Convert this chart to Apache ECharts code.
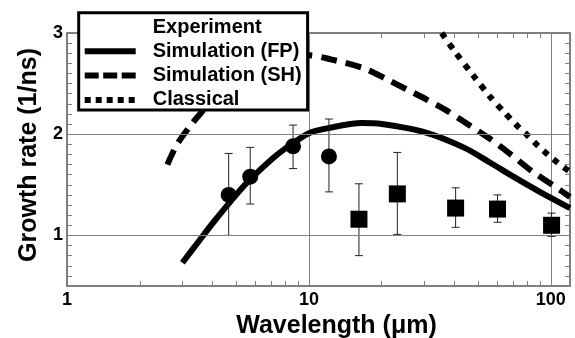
<!DOCTYPE html>
<html><head><meta charset="utf-8">
<script src="https://cdn.jsdelivr.net/npm/echarts@6/dist/echarts.min.js"></script>
<style>html,body{margin:0;padding:0;background:#fff}#c{width:575px;height:338px}</style>
</head><body><div id="c"></div>
<script>
// Experiment (circles)
const circleX = [4.66, 5.72, 8.6, 12.1];
const circleY = [1.40, 1.58, 1.88, 1.78];
const circleLow = [1.00, 1.31, 1.66, 1.43];
const circleHigh = [1.81, 1.87, 2.09, 2.15];
// Experiment (squares)
const squareX = [16.1, 23.2, 40.4, 60.2, 100.7];
const squareY = [1.16, 1.41, 1.27, 1.26, 1.10];
const squareLow = [0.80, 1.01, 1.08, 1.13, 0.99];
const squareHigh = [1.51, 1.82, 1.47, 1.40, 1.22];
// Simulation (FP)
const fpX = [3, 3.5, 4, 5, 5.7, 7, 8, 10, 12, 16.5, 20, 30, 44, 56, 70, 90, 120];
const fpY = [0.73, 0.94, 1.12, 1.40, 1.55, 1.75, 1.86, 2.01, 2.06, 2.11, 2.10, 2.02, 1.865, 1.72, 1.58, 1.43, 1.27];
// Simulation (SH)
const shX = [2.6, 2.85, 3.3, 3.55, 4, 5, 6, 8, 10, 12.3, 16.9, 21.1, 25.5, 30.8, 37.3, 46.6, 56.4, 68.3, 84, 103, 120];
const shY = [1.70, 1.90, 2.11, 2.20, 2.34, 2.52, 2.63, 2.74, 2.78, 2.74, 2.65, 2.54, 2.44, 2.34, 2.23, 2.08, 1.95, 1.80, 1.63, 1.49, 1.38];
// Classical
const clX = [35.4, 40, 47.8, 56.1, 64, 72.8, 80, 88.1, 97, 106.6, 115, 120];
const clY = [3.0, 2.82, 2.58, 2.37, 2.22, 2.08, 1.99, 1.89, 1.80, 1.72, 1.66, 1.63];
// Axis labels / grid
const xTickLabels = [1, 10, 100];
const yTickLabels = [1, 2, 3];
const yGridValues = [1, 2];

const FONT = '"Liberation Sans", Arial, Helvetica, sans-serif';
const zip = (a, b) => a.map((v, i) => [v, b[i]]);
const zip3 = (a, b, c) => a.map((v, i) => [v, b[i], c[i]]);
const GRAY = '#808080';

const errData = zip3(circleX, circleLow, circleHigh).concat(zip3(squareX, squareLow, squareHigh));

const chart = echarts.init(document.getElementById('c'), null, {renderer: 'canvas'});

const xCommon = {
  type: 'log', logBase: 10, min: 1, max: 120,
  axisLine: {show: true, lineStyle: {color: GRAY, width: 2}},
  axisTick: {show: true, inside: true, length: 5, lineStyle: {color: GRAY, width: 1}},
  minorTick: {show: true, splitNumber: 9, length: 5, lineStyle: {color: GRAY, width: 1}},
};
const yCommon = {
  type: 'value', min: 0.5, max: 3, interval: 0.5,
  axisLine: {show: true, lineStyle: {color: GRAY, width: 2}},
  axisTick: {show: true, inside: true, length: 5, lineStyle: {color: GRAY, width: 1}},
  minorTick: {show: true, splitNumber: 5, length: 5, lineStyle: {color: GRAY, width: 1}},
  splitLine: {show: false}
};

chart.setOption({
  animation: false,
  backgroundColor: '#fff',
  grid: {left: 67, right: 5, top: 33, bottom: 52, containLabel: false, outerBoundsMode: 'none'},
  legend: {
    orient: 'vertical', align: 'left', left: 78.7, top: 12.7,
    padding: [4.3, 6, 0, 3],
    borderColor: '#000', borderWidth: 3, backgroundColor: '#fff',
    itemGap: 4.3, itemWidth: 51, itemHeight: 14,
    selectedMode: false,
    lineStyle: {width: 6},
    itemStyle: {color: 'rgba(0,0,0,0)', borderWidth: 0, opacity: 0},
    textStyle: {fontSize: 20, fontWeight: 'bold', color: '#000', fontFamily: FONT, lineHeight: 20, padding: [0, 0, 0, 12]},
    data: [
      {name: 'Experiment', icon: 'none'},
      {name: 'Simulation (FP)'},
      {name: 'Simulation (SH)', lineStyle: {type: [14, 4.5]}},
      {name: 'Classical', lineStyle: {type: [6, 5]}}
    ]
  },
  xAxis: [
    Object.assign({}, xCommon, {
      position: 'bottom',
      name: 'Wavelength (μm)', nameLocation: 'middle', nameGap: 16,
      nameTextStyle: {fontSize: 25, fontWeight: 'bold', color: '#000', fontFamily: FONT, padding: [0, 0, 0, 36]},
      axisLabel: {show: true, margin: 5, fontSize: 18, fontWeight: 'bold', color: '#000', fontFamily: FONT,
        formatter: v => xTickLabels.indexOf(Math.round(v * 1000) / 1000) >= 0 ? String(Math.round(v)) : ''},
      splitLine: {show: true, lineStyle: {color: GRAY, width: 1}}
    }),
    Object.assign({}, xCommon, {
      position: 'top', axisLabel: {show: false}, splitLine: {show: false}
    })
  ],
  yAxis: [
    Object.assign({}, yCommon, {
      position: 'left',
      name: 'Growth rate (1/ns)', nameLocation: 'middle', nameGap: 24, nameRotate: 90,
      nameTextStyle: {fontSize: 25, fontWeight: 'bold', color: '#000', fontFamily: FONT, padding: [0, 0, 0, 9]},
      axisLabel: {show: true, margin: 4, fontSize: 18, fontWeight: 'bold', color: '#000', fontFamily: FONT,
        formatter: v => yTickLabels.indexOf(v) >= 0 ? String(v) : ''}
    }),
    Object.assign({}, yCommon, {
      position: 'right', axisLabel: {show: false}
    })
  ],
  series: [
    {
      type: 'line', name: 'grid', data: [], z: 1, silent: true,
      markLine: {silent: true, symbol: 'none', label: {show: false}, animation: false,
        lineStyle: {color: GRAY, width: 1, type: 'solid'},
        data: yGridValues.map(v => ({yAxis: v}))}
    },
    {
      type: 'custom', name: 'Experiment', xAxisIndex: 0, yAxisIndex: 0, z: 3,
      data: errData, encode: {x: 0, y: [1, 2]},
      renderItem: (params, api) => {
        const x = api.value(0), lo = api.value(1), hi = api.value(2);
        const p1 = api.coord([x, lo]), p2 = api.coord([x, hi]);
        const w = 4, st = {stroke: '#222', lineWidth: 1};
        return {type: 'group', children: [
          {type: 'line', shape: {x1: p1[0], y1: p1[1], x2: p2[0], y2: p2[1]}, style: st},
          {type: 'line', shape: {x1: p1[0] - w, y1: p1[1], x2: p1[0] + w, y2: p1[1]}, style: st},
          {type: 'line', shape: {x1: p2[0] - w, y1: p2[1], x2: p2[0] + w, y2: p2[1]}, style: st}
        ]};
      }
    },
    {
      type: 'line', name: 'Simulation (FP)', data: zip(fpX, fpY), smooth: 0.3, symbol: 'none', z: 2,
      lineStyle: {color: '#000', width: 6}, itemStyle: {color: '#000'}, clip: true
    },
    {
      type: 'line', name: 'Simulation (SH)', data: zip(shX, shY), smooth: 0.3, symbol: 'none', z: 2,
      lineStyle: {color: '#000', width: 6, type: [16, 9]}, itemStyle: {color: '#000'}, clip: true
    },
    {
      type: 'line', name: 'Classical', data: zip(clX, clY), smooth: 0.3, symbol: 'none', z: 2,
      lineStyle: {color: '#000', width: 6, type: [6, 7]}, itemStyle: {color: '#000'}, clip: true
    },
    {
      type: 'scatter', name: 'Experiment', data: zip(circleX, circleY), symbol: 'circle', symbolSize: 16, z: 4,
      itemStyle: {color: '#000', opacity: 1}
    },
    {
      type: 'scatter', name: 'Experiment', data: zip(squareX, squareY), symbol: 'rect', symbolSize: 17, z: 4,
      itemStyle: {color: '#000', opacity: 1}
    }
  ]
});
</script>
</body></html>
